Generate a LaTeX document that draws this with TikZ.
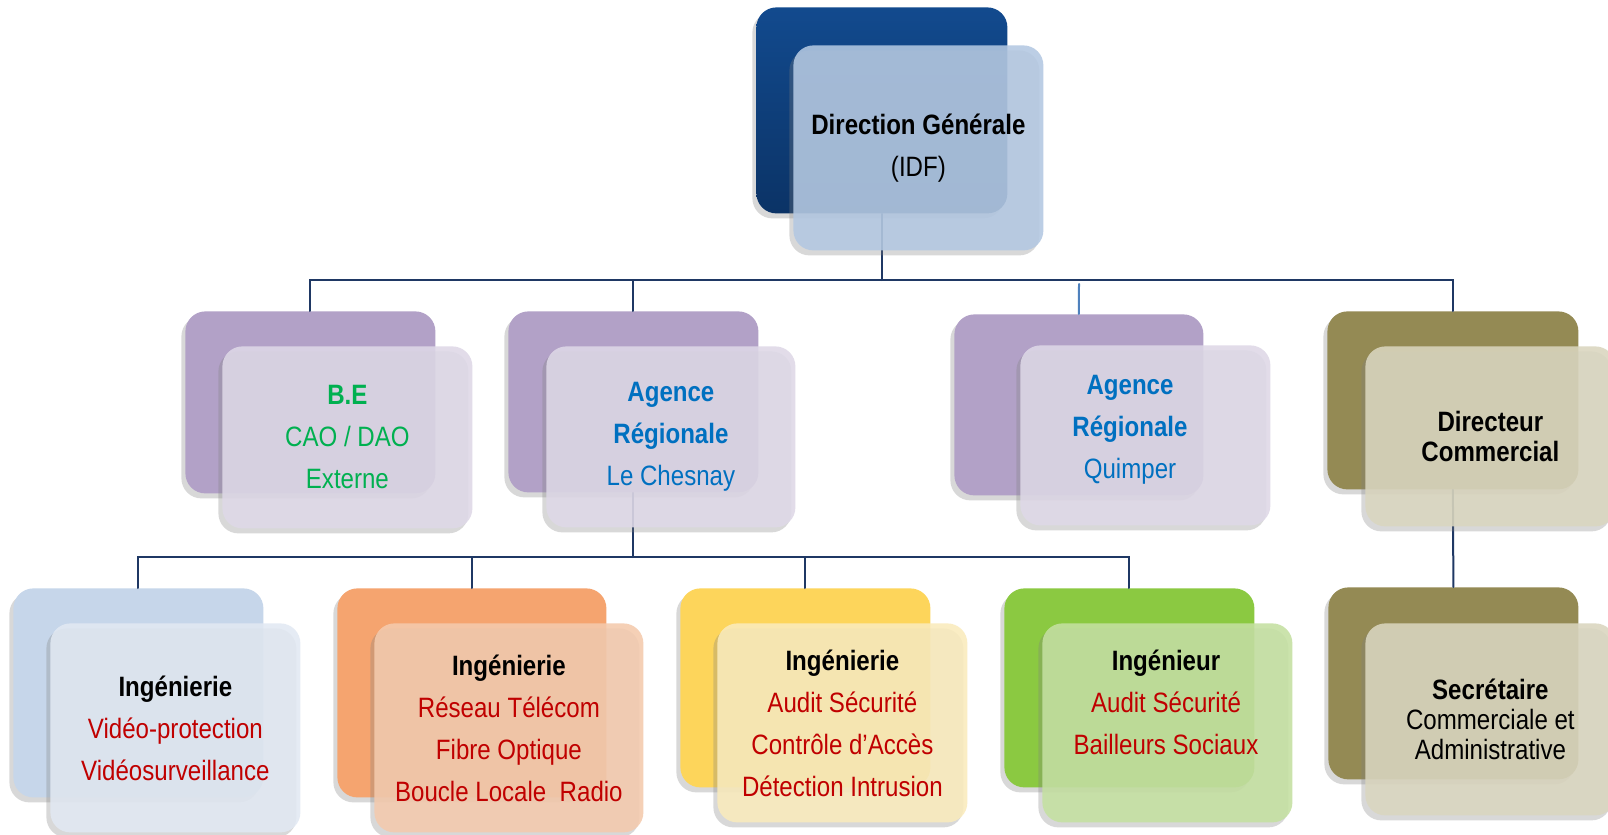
\documentclass[tikz,border=0pt]{standalone}
\usepackage{fontspec}
\setmainfont{Liberation Sans}[FakeStretch=0.86]
\usepackage{tikz}
\usetikzlibrary{shadows}
\definecolor{navy}{HTML}{1F3864}
\definecolor{lineblue}{HTML}{4F81BD}
\definecolor{dgtop}{HTML}{124A8E}
\definecolor{dgbot}{HTML}{0B3366}
\definecolor{dgfront}{HTML}{B3C8E2}
\definecolor{purple}{HTML}{B2A1C7}
\definecolor{purplefront}{HTML}{DED8E7}
\definecolor{olive}{HTML}{948A54}
\definecolor{olivefront}{HTML}{DAD6BF}
\definecolor{skyback}{HTML}{C6D6EA}
\definecolor{skyfront}{HTML}{E2E9F3}
\definecolor{orange}{HTML}{F5A46F}
\definecolor{orangefront}{HTML}{F4CAAD}
\definecolor{yellow}{HTML}{FDD55B}
\definecolor{yellowfront}{HTML}{FAEBBC}
\definecolor{green}{HTML}{8BC941}
\definecolor{greenfront}{HTML}{C4E0A1}
\definecolor{txtgreen}{HTML}{00B050}
\definecolor{txtblue}{HTML}{0070C0}
\definecolor{txtred}{HTML}{C00000}

\begin{document}
\begin{tikzpicture}[x=0.5pt, y=-0.5pt]

        \tikzset{box/.style = {rectangle, rounded corners=10pt, anchor=north west, inner sep=0pt,
                 drop shadow={shadow xshift=-2pt, shadow yshift=-2.5pt, opacity=0.3},
                 font=\fontsize{14}{21}\selectfont, align=center}}
        \tikzset{front/.style = {box, fill opacity=0.88, text opacity=1}}
        \tikzset{txt/.style = {inner sep=0pt, font=\fontsize{14}{21}\selectfont, align=center}}
        \tikzset{link/.style = {draw=navy, line width=1pt, line cap=round}}
        \tikzset{linklite/.style = {draw=lineblue, line width=1pt, line cap=round}}

        \useasboundingbox (0,0) rectangle (1608,835);
        \clip (0,0) rectangle (1608,835);
        \fill[white] (0,0) rectangle (1608,835);

        % back boxes
        \node[box, top color=dgtop, bottom color=dgbot, minimum width=125.5pt, minimum height=103pt] (dgB) at (756,7) {};
        \node[box, fill=purple, minimum width=125pt, minimum height=91pt] (beB) at (185,311) {};
        \node[box, fill=purple, minimum width=125pt, minimum height=90.5pt] (lcB) at (508,311) {};
        \node[box, fill=purple, minimum width=124.5pt, minimum height=90.5pt] (qpB) at (954,314) {};
        \node[box, fill=olive, minimum width=125.5pt, minimum height=89pt] (dcB) at (1327,311) {};
        \node[box, fill=skyback, minimum width=125pt, minimum height=104.5pt] (v1B) at (13,588) {};
        \node[box, fill=orange, minimum width=134.5pt, minimum height=104.5pt] (r2B) at (337,588) {};
        \node[box, fill=yellow, minimum width=125pt, minimum height=99.5pt] (a3B) at (680,588) {};
        \node[box, fill=green, minimum width=125pt, minimum height=99.5pt] (a4B) at (1004,588) {};
        \node[box, fill=olive, minimum width=125pt, minimum height=96pt] (scB) at (1328,587) {};

        % connectors
        \coordinate (bus1) at (0,280);
        \coordinate (bus2) at (0,557);
        \coordinate (qpTop) at (1079,284);
        \draw[link] (dgB.south) -- (dgB.south |- bus1);
        \draw[link] (beB.north) |- (dcB.north |- bus1) -- (dcB.north);
        \draw[link] (lcB.north) -- (lcB.north |- bus1);
        \draw[linklite] (qpTop) -- (qpB.north);
        \draw[link] (lcB.south) -- (lcB.south |- bus2);
        \draw[link] (v1B.north) |- (a4B.north |- bus2) -- (a4B.north);
        \draw[link] (r2B.north) -- (r2B.north |- bus2);
        \draw[link] (a3B.north) -- (a3B.north |- bus2);
        \draw[link] (dcB.south) -- (scB.north);

        % front boxes
        \node[front, fill=dgfront, minimum width=125pt, minimum height=102.5pt] (dg) at (793,45)
            {\textbf{Direction Générale}\\(IDF)};
        \node[front, fill=purplefront, minimum width=125pt, minimum height=91pt, text=txtgreen] (be) at (222,346)
            {\textbf{B.E}\\CAO / DAO\\Externe};
        \node[front, fill=purplefront, minimum width=124.5pt, minimum height=90.5pt, text=txtblue] (lc) at (546,346)
            {\textbf{Agence}\\\textbf{Régionale}\\Le Chesnay};
        \node[front, fill=purplefront, minimum width=125pt, minimum height=90pt] (qp) at (1020,345) {};
        \node[txt, text=txtblue] (qpT) at (1130,430)
            {\textbf{Agence}\\\textbf{Régionale}\\Quimper};
        \node[front, fill=olivefront, minimum width=125pt, minimum height=90pt,
              font=\fontsize{14}{15}\selectfont] (dc) at (1365,346)
            {\textbf{Directeur}\\\textbf{Commercial}};
        \node[front, fill=skyfront, minimum width=125pt, minimum height=104.5pt] (v1) at (50,623)
            {\textbf{Ingénierie}\\\textcolor{txtred}{Vidéo-protection}\\\textcolor{txtred}{Vidéosurveillance}};
        \node[front, fill=orangefront, minimum width=134.5pt, minimum height=104.5pt] (r2) at (374,623)
            {\textbf{Ingénierie}\\\textcolor{txtred}{Réseau Télécom}\\\textcolor{txtred}{Fibre Optique}\\\textcolor{txtred}{Boucle Locale\ \ Radio}};
        \node[front, fill=yellowfront, minimum width=125pt, minimum height=99.5pt] (a3) at (717,623)
            {\textbf{Ingénierie}\\\textcolor{txtred}{Audit Sécurité}\\\textcolor{txtred}{Contrôle d’Accès}\\\textcolor{txtred}{Détection Intrusion}};
        \node[front, fill=greenfront, minimum width=125pt, minimum height=99.5pt] (a4) at (1042,623) {};
        \node[txt, text=txtred] (a4T) at (1166,702)
            {\textcolor{black}{\textbf{Ingénieur}}\\Audit Sécurité\\Bailleurs Sociaux};
        \node[front, fill=olivefront, minimum width=125pt, minimum height=96pt,
              font=\fontsize{14}{15}\selectfont] (sc) at (1365,623)
            {\textbf{Secrétaire}\\Commerciale et\\Administrative};
\end{tikzpicture}
\end{document}
